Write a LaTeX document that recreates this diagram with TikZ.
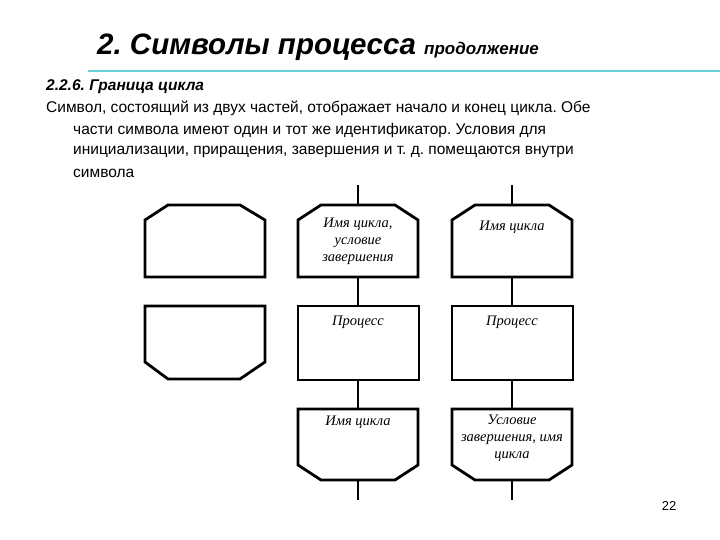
\documentclass[tikz,border=0pt]{standalone}
\usepackage{fontspec}
\setmainfont{Liberation Sans}
\newfontfamily\serifru{Liberation Serif}
\begin{document}
\frenchspacing
\begin{tikzpicture}[x=1pt,y=-1pt,
  lbl/.style={font=\serifru\itshape\fontsize{14.5}{17}\selectfont,align=center,anchor=north,inner sep=0pt},
  txt/.style={anchor=west,inner sep=0pt,font=\fontsize{15.5}{18}\selectfont},
  shp/.style={draw,line width=2.8pt,line join=miter},
  conn/.style={line width=2.8pt}]
\useasboundingbox (0,0) rectangle (720,540);
\node[anchor=base west,inner sep=0pt] (title) at (97,55) {\fontsize{29.5}{31}\selectfont\bfseries\itshape 2. Символы процесса {\fontsize{17}{18}\selectfont продолжение}};
\draw[line width=2pt,color={rgb,255:red,100;green,210;blue,215}] (88,71) -- (720,71);
\node[txt] (h) at (46,87) {\bfseries\itshape 2.2.6. Граница цикла};
\node[txt] (l1) at (46,108) {Символ, состоящий из двух частей, отображает начало и конец цикла. Обе};
\node[txt] (l2) at (73,130) {части символа имеют один и тот же идентификатор. Условия для};
\node[txt] (l3) at (73,152) {инициализации, приращения, завершения и т. д. помещаются внутри};
\node[txt] (l4) at (73,173) {символа};
% left shapes
\draw[shp] (145,277) -- (145,220) -- (168,205) -- (240,205) -- (265,220) -- (265,277) -- cycle;
\draw[shp] (145,306) -- (265,306) -- (265,362) -- (240,379) -- (168,379) -- (145,362) -- cycle;
\foreach \c/\n in {358/m,512/r}{
  \coordinate (\n top) at (\c,185);
  \coordinate (\n bot) at (\c,500);
  \draw[shp] (\c-60,277) -- (\c-60,220) -- (\c-37,205) -- (\c+37,205) -- (\c+60,220) -- (\c+60,277) -- cycle;
  \draw[shp] (\c-60,306) rectangle (\c+61,380);
  \draw[shp] (\c-60,409) -- (\c+60,409) -- (\c+60,465) -- (\c+37,480) -- (\c-37,480) -- (\c-60,465) -- cycle;
  \draw[conn] (\c,185) -- (\c,205);
  \draw[conn] (\c,277) -- (\c,306);
  \draw[conn] (\c,380) -- (\c,409);
  \draw[conn] (\c,480) -- (\c,500);
}
\node[lbl] (m1) at (358,218) {Имя цикла,\\условие\\завершения};
\node[lbl] (r1) at (512,221) {Имя цикла};
\node[lbl] (m2) at (358,316) {Процесс};
\node[lbl] (r2) at (512,316) {Процесс};
\node[lbl] (m3) at (358,416) {Имя цикла};
\node[lbl] (r3) at (512,415) {Условие\\завершения, имя\\цикла};
\node[anchor=base,inner sep=0pt,font=\fontsize{13}{15}\selectfont] (pg) at (669,510) {22};
\end{tikzpicture}
\end{document}
